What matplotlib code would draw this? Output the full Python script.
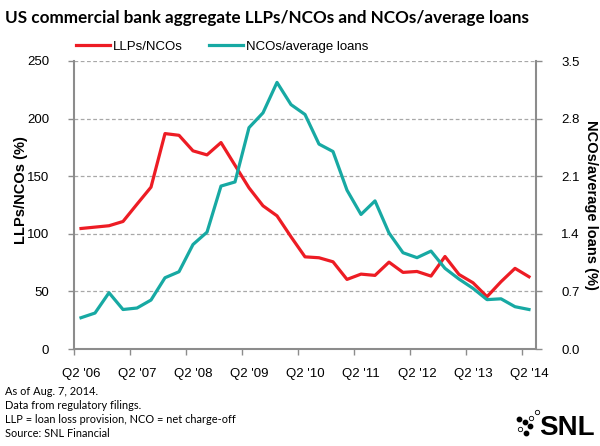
import numpy as np
import matplotlib
matplotlib.use("Agg")
from matplotlib import pyplot as plt
from matplotlib.lines import Line2D

# datos trimestrales Q2'06 .. Q2'14
quarters = ["Q2 '06", "Q2 '07", "Q2 '08", "Q2 '09", "Q2 '10",
            "Q2 '11", "Q2 '12", "Q2 '13", "Q2 '14"]
llp_nco = [104.6, 105.8, 107.0, 110.7, 125.7, 140.5, 187.0, 185.5, 172.0,
           168.5, 179.2, 159.5, 139.9, 124.3, 115.6, 97.4, 80.0, 79.2,
           75.7, 60.4, 65.0, 63.9, 75.4, 66.5, 67.3, 63.3, 80.3, 64.7,
           57.5, 45.4, 58.4, 70.0, 62.7]
nco_loans = [0.38, 0.437, 0.684, 0.48, 0.498, 0.595, 0.866, 0.939, 1.27,
             1.42, 1.98, 2.03, 2.69, 2.87, 3.24, 2.97, 2.85, 2.49,
             2.40, 1.93, 1.635, 1.80, 1.41, 1.17, 1.11, 1.19, 0.98, 0.85,
             0.737, 0.60, 0.61, 0.514, 0.48]

red = "#ED1C24"
teal = "#17A9A3"
grey = "#8C8C8C"
sans = ["Liberation Sans", "DejaVu Sans"]
plt.rcParams["font.family"] = sans

x = np.arange(len(llp_nco))

fig = plt.figure(figsize=(6, 4.46), dpi=100)
ax = fig.add_axes([74 / 600, 1 - 349 / 446, (536 - 74) / 600, (349 - 61) / 446])
ax2 = ax.twinx()

ax.plot(x, llp_nco, color=red, lw=2.3, zorder=3)
ax2.plot(x, nco_loans, color=teal, lw=2.3, zorder=3)

ax.set_xlim(-0.5, len(x) - 0.5)
ax.set_ylim(0, 250)
ax.set_yticks(np.arange(0, 251, 50))
ax2.set_ylim(0, 3.5)
ax2.set_yticks(np.arange(0, 3.51, 0.7))
ax2.set_yticklabels(["%.1f" % v for v in np.arange(0, 3.51, 0.7)])

ax.set_xticks(np.arange(0, len(x), 4))
ax.set_xticklabels(quarters)
ax.set_xticks(np.arange(-0.5, len(x), 4), minor=True)
ax.tick_params(axis="x", which="major", length=0, pad=14, labelsize=9.5)
ax.tick_params(axis="x", which="minor", length=4, width=1, color=grey, direction="out")
ax.tick_params(axis="y", length=4, width=1, color=grey, pad=14, labelsize=9.5)
ax2.tick_params(axis="y", length=4, width=1, color=grey, pad=14, labelsize=9.5)

ax.grid(axis="y", color="#A8A8A8", linestyle=(0, (3, 2)), linewidth=0.9)
ax.set_axisbelow(True)

for a in (ax, ax2):
    a.spines["top"].set_visible(False)
    for s in ("left", "right", "bottom"):
        a.spines[s].set_color(grey)
        a.spines[s].set_linewidth(1.5)
ax.spines["right"].set_visible(False)
ax2.spines["left"].set_visible(False)
ax2.spines["bottom"].set_visible(False)

fig.text(20.7 / 600, 1 - 190 / 446, "LLPs/NCOs (%)", rotation=90, fontsize=10.5,
         fontweight="bold", ha="center", va="center")
fig.text(591 / 600, 1 - 205 / 446, "NCOs/average loans (%)", rotation=-90,
         fontsize=10.5, fontweight="bold", ha="center", va="center")

fig.text(5 / 600, 1 - 18 / 446,
         "US commercial bank aggregate LLPs/NCOs and NCOs/average loans",
         fontsize=12.3, fontweight="bold", family=["Lato", "DejaVu Sans"],
         ha="left", va="center")

handles = [Line2D([], [], color=red, lw=2.3), Line2D([], [], color=teal, lw=2.3)]
fig.legend(handles, ["LLPs/NCOs", "NCOs/average loans"], ncol=2, frameon=False,
           loc="center", bbox_to_anchor=(222 / 600, 1 - 47 / 446), fontsize=9.5,
           handlelength=2.6, handletextpad=0.2, columnspacing=2.0)

notes = ["As of Aug. 7, 2014.", "Data from regulatory filings.",
         "LLP = loan loss provision, NCO = net charge-off", "Source: SNL Financial"]
for i, line in enumerate(notes):
    fig.text(5 / 600, 1 - (391.5 + 14 * i) / 446, line, fontsize=7.9,
             family=["Lato", "DejaVu Sans"], ha="left", va="center")

# logo SNL
fig.text(567 / 600, 1 - 428 / 446, "SNL", fontsize=20, fontweight="bold",
         family=["Liberation Sans", "DejaVu Sans"], ha="center", va="center")
logo = fig.add_axes([0, 0, 1, 1], facecolor="none")
logo.set_xlim(0, 600)
logo.set_ylim(446, 0)
logo.axis("off")
logo.scatter([519.3, 524.5, 529.5, 525.5], [419, 421.5, 425.7, 433],
             s=10, color="black")
logo.scatter([530.7, 536.5, 520], [417.5, 412.3, 429], s=10,
             facecolor="white", edgecolor="black", linewidth=0.6)

fig.savefig("out.png", dpi=100)
